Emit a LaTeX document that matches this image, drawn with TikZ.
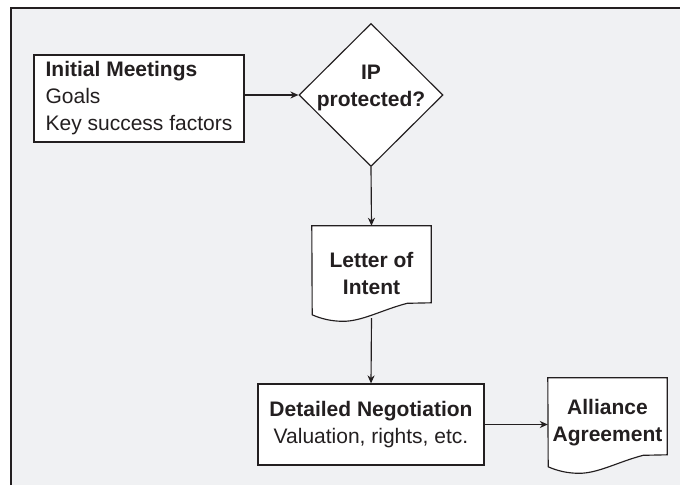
\documentclass[tikz,border=0pt]{standalone}
\usepackage{fontspec}
\setmainfont{Liberation Sans}
\usetikzlibrary{arrows.meta,shapes.geometric,calc,backgrounds}
\definecolor{framebg}{HTML}{F0F1F3}
\definecolor{ink}{HTML}{231F20}
\begin{document}
\begin{tikzpicture}[x=1pt,y=1pt,
  txt/.style={font=\fontsize{21}{27}\selectfont, text=ink},
  txtb/.style={font=\fontsize{21}{27}\selectfont\bfseries, text=ink},
  boxnode/.style={draw=ink, line width=1.15pt, fill=white, rectangle, inner sep=0pt},
  conn/.style={draw=ink, line width=1.15pt, -{Stealth[length=8pt,width=7pt,inset=2.5pt]}},
  docnode/.style={rectangle, inner sep=0pt, minimum width=119pt, minimum height=89pt, align=center, txtb}]
\useasboundingbox (0,0) rectangle (680,485);

\node[boxnode, minimum width=210pt, minimum height=87pt, align=left, txt] (im) at (139,386.5) {\textbf{Initial Meetings}\\Goals\\Key success factors};

\node[diamond, draw=ink, line width=1.15pt, fill=white, minimum width=144pt, minimum height=143pt, inner sep=0pt] (dia) at (371,390) {};
\node[txtb, align=center] (diat) at (371,397) {IP\\protected?};

\node[docnode] (loi) at (371.5,214.5) {\rule{0pt}{21pt}Letter of\\Intent};
\node[docnode] (al) at (607.5,62.5) {Alliance\\Agreement};

\node[boxnode, minimum width=226pt, minimum height=81pt, align=center, txt] (dn) at (371,60.5) {\textbf{Detailed Negotiation}\\Valuation, rights, etc.};

\begin{scope}[on background layer]
  \fill[framebg] (11,0) rectangle (680,476.5);
  \draw[ink, line width=2pt] (11,0) -- (11,476.5) -- (680,476.5);
  \foreach \n in {loi,al}
    \draw[draw=ink, line width=1.15pt, fill=white] (\n.north west) -- (\n.north east) -- ++(0,-77) -- ++(-24,-0.5)
      .. controls +(-25,-6.5) and +(19,0) .. ++(-64,-18)
      .. controls +(-13,0) and +(8,-3.5) .. ++(-31,6.5) -- cycle;
\end{scope}

\draw[conn] (im.east |- dia.west) -- (dia.west);
\draw[conn] (dia.south) -- (loi.north);
\draw[conn] ([yshift=-3pt]loi.south) -- (dn.north);
\draw[conn] (dn.east) -- (dn.east -| al.west);
\end{tikzpicture}
\end{document}
